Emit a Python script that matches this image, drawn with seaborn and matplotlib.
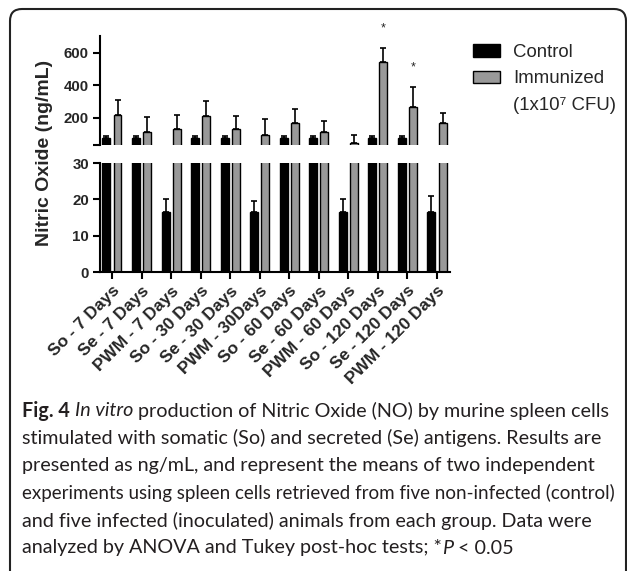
import pandas as pd
import matplotlib
matplotlib.use('Agg')
import matplotlib.pyplot as plt
import seaborn as sns
from matplotlib.patches import Patch, FancyBboxPatch
from matplotlib.transforms import IdentityTransform

# values (ng/mL)
groups = ['So - 7 Days', 'Se - 7 Days', 'PWM - 7 Days', 'So - 30 Days', 'Se - 30 Days', 'PWM - 30Days',
          'So - 60 Days', 'Se - 60 Days', 'PWM - 60 Days', 'So - 120 Days', 'Se - 120 Days', 'PWM - 120 Days']
control = [75, 75, 16.5, 75, 75, 16.5, 75, 75, 16.5, 75, 75, 16.5]
control_err = [12, 12, 3.5, 12, 12, 3.0, 12, 12, 3.5, 12, 12, 4.3]
immunized = [218, 112, 126, 208, 132, 95, 167, 112, 44, 543, 263, 167]
immunized_err = [88, 92, 88, 92, 80, 93, 86, 65, 51, 90, 126, 62]
signif = [False, False, False, False, False, False, False, False, False, True, True, False]

caption_lines = [
    [('Fig. 4', 'bold', 'normal'), (' ', 'normal', 'normal'), ('In vitro', 'normal', 'italic'),
     (' production of Nitric Oxide (NO) by murine spleen cells', 'normal', 'normal')],
    [('stimulated with somatic (So) and secreted (Se) antigens. Results are', 'normal', 'normal')],
    [('presented as ng/mL, and represent the means of two independent', 'normal', 'normal')],
    [('experiments using spleen cells retrieved from five non-infected (control)', 'normal', 'normal')],
    [('and five infected (inoculated) animals from each group. Data were', 'normal', 'normal')],
    [('analyzed by ANOVA and Tukey post-hoc tests; *', 'normal', 'normal'), ('P', 'normal', 'italic'),
     (' < 0.05', 'normal', 'normal')],
]

df = pd.DataFrame({
    'group': groups * 2,
    'value': control + immunized,
    'treatment': ['Control'] * len(groups) + ['Immunized'] * len(groups),
})
errs = {'Control': control_err, 'Immunized': immunized_err}
pal = {'Control': 'black', 'Immunized': '#999999'}

sns.set_style('white')
plt.rcParams['font.family'] = ['Liberation Sans', 'DejaVu Sans']

W, H = 627, 571
fig = plt.figure(figsize=(W / 100, H / 100), dpi=100)
ax_top = fig.add_axes([100 / W, 1 - 145 / H, 350 / W, 109 / H])
ax_bot = fig.add_axes([100 / W, 1 - 272 / H, 350 / W, 109 / H])

# broken y axis: two panels showing the same bars
for ax, ylim in ((ax_top, (30, 705)), (ax_bot, (0, 30))):
    sns.barplot(data=df, x='group', y='value', hue='treatment', palette=pal, edgecolor='black',
                linewidth=1, width=0.75, gap=0.28, errorbar=None, legend=False, ax=ax, zorder=2)
    for cont, lvl in zip(ax.containers, ['Control', 'Immunized']):
        pts = [(b.get_x() + b.get_width() / 2, b.get_height(), e)
               for b, e in zip(cont, errs[lvl]) if b.get_height() + e > ylim[0]]
        if not pts:
            continue
        xs, hs, es = zip(*pts)
        ax.errorbar(xs, hs, yerr=[[0] * len(hs), es], fmt='none', ecolor='black',
                    elinewidth=1.2, capsize=2.2, capthick=1.2, zorder=1)
    ax.set_ylim(*ylim)
    ax.set_xlim(-0.405, 11.44)
    ax.set_xlabel('')
    ax.set_ylabel('')
    sns.despine(ax=ax)
    for s in ax.spines.values():
        s.set_linewidth(1.5)
        s.set_color('black')
    ax.tick_params(axis='both', direction='out', length=5, width=1.5, color='black', pad=3,
                   labelsize=10.8, left=True, bottom=True)

ax_top.set_yticks([30, 200, 400, 600])
ax_top.set_yticklabels(['', '200', '400', '600'], fontweight='bold')
ax_top.spines['bottom'].set_visible(False)
ax_top.tick_params(axis='x', bottom=False, labelbottom=False)

ax_bot.set_yticks([0, 10, 20, 30])
ax_bot.set_yticklabels(['0', '10', '20', '30'], fontweight='bold')
ax_bot.set_xticks(range(len(groups)))
ax_bot.set_xticklabels(groups, rotation=45, ha='right', rotation_mode='anchor',
                       fontsize=12.4, fontweight='bold')

# significance stars above immunized bars
imm_bars = ax_top.containers[1]
for b, e, s in zip(imm_bars, immunized_err, signif):
    if s:
        ax_top.annotate('*', (b.get_x() + b.get_width() / 2, b.get_height() + e), xytext=(0, 14),
                        textcoords='offset points', ha='center', va='center', fontsize=9,
                        annotation_clip=False)

fig.text(45 / W, 1 - 153 / H, 'Nitric Oxide (ng/mL)', rotation=90, ha='center', va='center',
         fontsize=14, fontweight='bold')

handles = [Patch(facecolor='black', edgecolor='black', linewidth=1),
           Patch(facecolor='#999999', edgecolor='black', linewidth=1),
           Patch(facecolor='none', edgecolor='none')]
fig.legend(handles, ['Control', 'Immunized', '(1x10\u2077 CFU)'], loc='upper left',
           bbox_to_anchor=(473 / W, 1 - 44 / H), frameon=False, fontsize=13.4, borderpad=0,
           borderaxespad=0, handlelength=1.45, handleheight=0.65, handletextpad=0.7,
           labelspacing=0.5)

# caption, shrunk line by line if it would run past the frame
fig.canvas.draw()
rend = fig.canvas.get_renderer()
cap_size = 14.2
for i, line in enumerate(caption_lines):
    y = H - (411 + i * 27.4)
    size = cap_size
    while True:
        x = 22
        drawn = []
        for txt, wt, st in line:
            t = fig.text(x, y, txt, transform=IdentityTransform(), ha='left', va='center',
                         fontsize=size, fontweight=wt, fontstyle=st, family='Lato', color='#231f20')
            drawn.append(t)
            x = t.get_window_extent(rend).x1
        if x <= 617:
            break
        for t in drawn:
            t.remove()
        size *= (617 - 22) / (x - 22)

fig.add_artist(FancyBboxPatch((10, -12), 616, H - 9 + 12, boxstyle='round,pad=0,rounding_size=12',
                              transform=IdentityTransform(), fill=False, edgecolor='#222222',
                              linewidth=1.5))

fig.savefig('out.png', dpi=100)
